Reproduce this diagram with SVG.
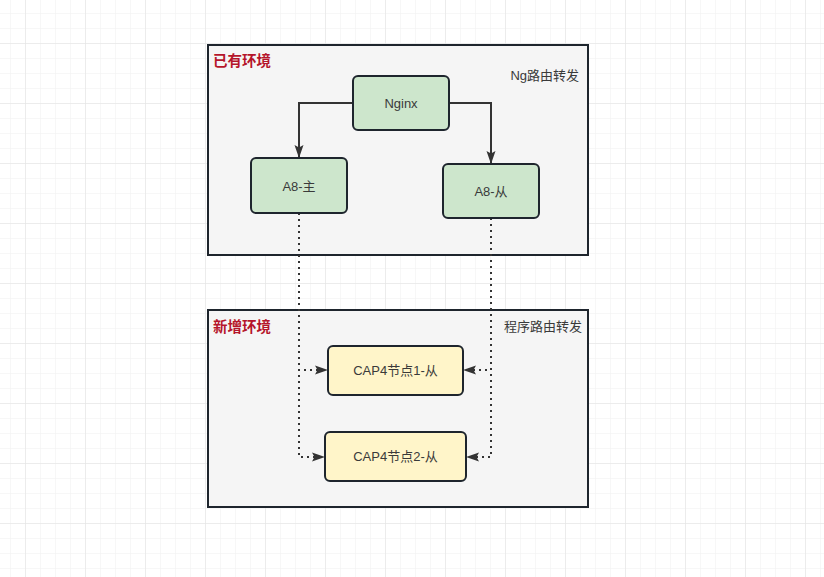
<svg xmlns="http://www.w3.org/2000/svg" width="824" height="577" viewBox="0 0 824 577">
<defs>
<pattern id="minor" x="10" y="13" width="15" height="15" patternUnits="userSpaceOnUse">
<path d="M0 0H15M0 0V15" fill="none" stroke="#efefef" stroke-width="1"/>
</pattern>
<pattern id="major" x="25" y="43" width="60" height="60" patternUnits="userSpaceOnUse">
<path d="M0 0H60M0 0V60" fill="none" stroke="#e2e2e2" stroke-width="1"/>
</pattern>
<marker id="arr" viewBox="0 0 13 10" refX="12" refY="5" markerWidth="13" markerHeight="10" markerUnits="userSpaceOnUse" orient="auto">
<path d="M0 0.5L13 5L0 9.5L2.5 5z" fill="#333"/>
</marker>
</defs>
<style>
.box{stroke:#1e252d;stroke-width:2}
.cont{fill:#f5f5f5;stroke:#1e252d;stroke-width:2}
.green{fill:#cde6cc}
.yellow{fill:#fff5c9}
.t{font-family:"Liberation Sans","Noto Sans CJK SC",sans-serif;font-size:13px;fill:#3a3a3a;text-anchor:middle}
.title{font-family:"Noto Sans CJK SC",sans-serif;font-size:14.5px;font-weight:bold;fill:#b5152b}
.note{font-family:"Liberation Sans","Noto Sans CJK SC",sans-serif;font-size:13px;fill:#3a3a3a;text-anchor:end}
.solid{fill:none;stroke:#333;stroke-width:2}
.dot{fill:none;stroke:#333;stroke-width:2;stroke-dasharray:2 4}
</style>
<rect width="824" height="577" fill="#fff"/>
<rect width="824" height="577" fill="url(#minor)"/>
<rect width="824" height="577" fill="url(#major)"/>

<g id="env-existing">
<rect class="cont" x="208" y="45" width="380" height="210"/>
<text class="title" x="213" y="66">已有环境</text>
<text class="note" x="579" y="80">Ng路由转发</text>
</g>
<g id="env-new">
<rect class="cont" x="208" y="310" width="380" height="197"/>
<text class="title" x="213" y="332">新增环境</text>
<text class="note" x="582" y="331">程序路由转发</text>
</g>

<g id="connectors">
<path class="solid" d="M353 103H299V157" marker-end="url(#arr)"/>
<path class="solid" d="M449 103H491V163" marker-end="url(#arr)"/>
<path class="dot" d="M299 213V370H327" marker-end="url(#arr)"/>
<path class="dot" d="M299 213V457H324" marker-end="url(#arr)"/>
<path class="dot" d="M491 218V370H464" marker-end="url(#arr)"/>
<path class="dot" d="M491 218V457H467" marker-end="url(#arr)"/>
</g>

<g id="nginx">
<rect class="box green" x="353" y="76" width="96" height="54" rx="5"/>
<text class="t" x="401" y="108">Nginx</text>
</g>
<g id="a8-master">
<rect class="box green" x="251" y="158" width="96" height="55" rx="5"/>
<text class="t" x="299" y="191">A8-主</text>
</g>
<g id="a8-slave">
<rect class="box green" x="443" y="164" width="96" height="54" rx="5"/>
<text class="t" x="491" y="196">A8-从</text>
</g>
<g id="cap4-1">
<rect class="box yellow" x="328" y="346" width="135" height="49" rx="5"/>
<text class="t" x="395.5" y="375">CAP4节点1-从</text>
</g>
<g id="cap4-2">
<rect class="box yellow" x="325" y="432" width="141" height="49" rx="5"/>
<text class="t" x="395.5" y="461">CAP4节点2-从</text>
</g>
</svg>
